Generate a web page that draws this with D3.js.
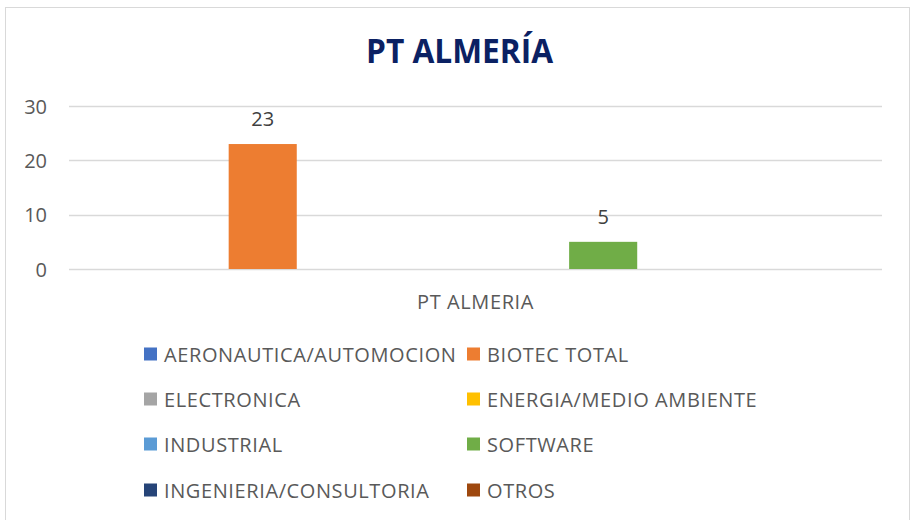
<!DOCTYPE html>
<html>
<head>
<meta charset="utf-8">
<script src="https://cdn.jsdelivr.net/npm/d3@7"></script>
<style>
  html, body { margin: 0; padding: 0; background: #fff; }
  svg { display: block; font-family: "Open Sans", sans-serif; }
</style>
</head>
<body>
<svg id="chart" width="911" height="520"></svg>
<script>
const title = "PT ALMERÍA";
const categories = ["PT ALMERIA"];
const seriesNames = [
  "AERONAUTICA/AUTOMOCION", "BIOTEC TOTAL", "ELECTRONICA", "ENERGIA/MEDIO AMBIENTE",
  "INDUSTRIAL", "SOFTWARE", "INGENIERIA/CONSULTORIA", "OTROS"
];
const seriesValues = [null, 23, null, null, null, 5, null, null];
const seriesColors = ["#4472C4", "#ED7D31", "#A5A5A5", "#FFC000", "#5B9BD5", "#70AD47", "#264478", "#9E480E"];
const yTicks = [0, 10, 20, 30];

const svg = d3.select("#chart");

// chart border
svg.append("rect")
  .attr("x", 5.5).attr("y", 7.5).attr("width", 904).attr("height", 520)
  .attr("fill", "#fff").attr("stroke", "#d9d9d9").attr("stroke-width", 1);

// title
svg.append("text")
  .attr("x", 459.5).attr("y", 63)
  .attr("text-anchor", "middle")
  .attr("font-size", 34)
  .attr("font-weight", 700)
  .attr("fill", "#0B2163")
  .attr("textLength", 187)
  .attr("lengthAdjust", "spacingAndGlyphs")
  .text(title);

const plotLeft = 69, plotRight = 882;
const y = d3.scaleLinear().domain([0, 30]).range([269, 106]);
const x0 = d3.scaleBand().domain(categories).range([plotLeft, plotRight]).paddingOuter(0.097).paddingInner(0);
const x1 = d3.scaleBand().domain(seriesNames).range([0, x0.bandwidth()]).paddingInner(0.2).paddingOuter(0.1);

// gridlines
const grid = svg.append("g");
grid.selectAll("line").data(yTicks).join("line")
  .attr("x1", plotLeft).attr("x2", plotRight)
  .attr("y1", d => Math.round(y(d)) + 0.5).attr("y2", d => Math.round(y(d)) + 0.5)
  .attr("stroke", "#d9d9d9").attr("stroke-width", 1.3);

// y axis labels
const yAxis = d3.axisLeft(y).tickValues(yTicks).tickSize(0).tickPadding(0);
const yg = svg.append("g").attr("transform", "translate(47,0)").call(yAxis);
yg.select(".domain").remove();
yg.selectAll("text")
  .attr("font-family", "Open Sans, sans-serif")
  .attr("font-size", 20).attr("fill", "#595959").attr("dy", "0.35em");

// bars
const series = seriesNames.map((name, i) => ({ name, value: seriesValues[i], color: seriesColors[i] }));
const gBars = svg.append("g");
categories.forEach(cat => {
  const g = gBars.append("g").attr("transform", `translate(${x0(cat)},0)`);
  const present = series.filter(s => s.value !== null);
  g.selectAll("rect").data(present).join("rect")
    .attr("x", d => x1(d.name))
    .attr("width", x1.bandwidth())
    .attr("y", d => y(d.value))
    .attr("height", d => y(0) - y(d.value))
    .attr("fill", d => d.color);
  g.selectAll("text.lbl").data(present).join("text")
    .attr("class", "lbl")
    .attr("x", d => x1(d.name) + x1.bandwidth() / 2)
    .attr("y", d => y(d.value) - 18)
    .attr("text-anchor", "middle")
    .attr("font-size", 20).attr("fill", "#404040")
    .text(d => d.value);
});

// x axis labels
const xAxis = d3.axisBottom(x0).tickSize(0).tickPadding(0);
const xg = svg.append("g").attr("transform", "translate(0,309)").call(xAxis);
xg.select(".domain").remove();
xg.selectAll("text")
  .attr("font-family", "Open Sans, sans-serif")
  .attr("font-size", 20).attr("letter-spacing", 0.6)
  .attr("fill", "#595959").attr("dy", 0);

// legend
const legend = svg.append("g");
const colX = [144, 467];
const rowY = [354, 399, 444, 490];
series.forEach((s, i) => {
  const cx = colX[i % 2], cy = rowY[Math.floor(i / 2)];
  const g = legend.append("g").attr("transform", `translate(${cx},${cy})`);
  g.append("rect").attr("x", 0).attr("y", -6.5).attr("width", 13).attr("height", 13).attr("fill", s.color);
  g.append("text").attr("x", 20).attr("y", 7.5)
    .attr("font-size", 20).attr("letter-spacing", 0.6).attr("fill", "#595959")
    .text(s.name);
});
</script>
</body>
</html>
